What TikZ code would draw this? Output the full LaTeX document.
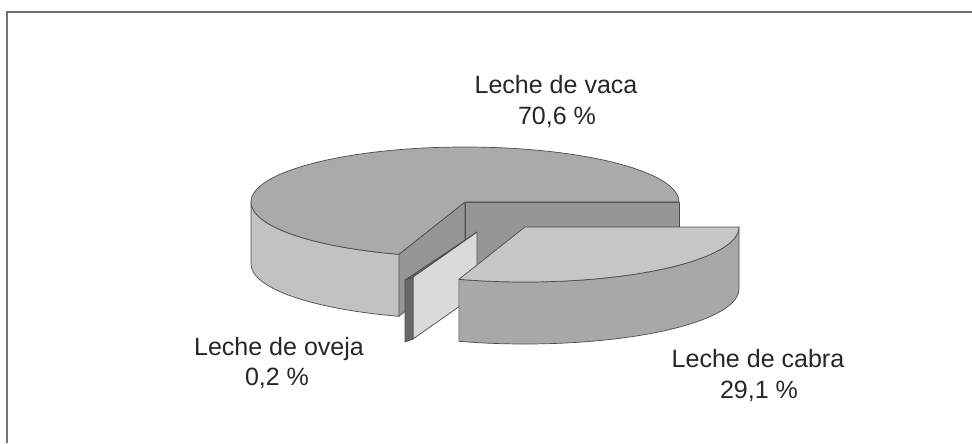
\documentclass[tikz,border=0pt]{standalone}
\usepackage{fontspec}
\setmainfont{Liberation Sans}
\definecolor{vacatop}{RGB}{170,170,170}
\definecolor{vacaside}{RGB}{194,194,194}
\definecolor{vacacut}{RGB}{150,150,150}
\definecolor{cabratop}{RGB}{198,198,198}
\definecolor{cabraside}{RGB}{168,168,168}
\definecolor{ovejaface}{RGB}{218,218,218}
\definecolor{ovejaside}{RGB}{105,105,105}
\begin{document}
\begin{tikzpicture}[x=0.025cm,y=0.025cm]
\tikzstyle{every node}+=[inner sep=0pt]
\tikzstyle{pieline}=[draw=black!70, line width=0.5pt, line join=round]
\tikzstyle{lbl}=[font=\fontsize{17.8}{22}\selectfont, text=black!85, anchor=base]
\useasboundingbox (0,0) rectangle (972,443);
\draw [black!55, line width=1pt] (7,0) -- (7,431) -- (972,431);
\coordinate (vc) at (465,241);
\coordinate (cc) at (525,216);
\coordinate (oc) at (477,211);
\coordinate (or1) at (413,166);
\coordinate (or2) at (405,163);
\draw [pieline, fill=vacacut] (vc) -- ++(214,0) -- ++(0,-62) -- ++(-214,0) -- cycle;
\draw [pieline, fill=vacacut] (vc) -- ++(252:214 and 55) -- ++(0,-62) -- (465,179) -- cycle;
\draw [pieline, fill=vacaside] (vc) ++(180:214 and 55) arc [start angle=180, end angle=252, x radius=214, y radius=55] -- ++(0,-62) arc [start angle=252, end angle=180, x radius=214, y radius=55] -- cycle;
\draw [pieline, fill=vacatop] (vc) -- ++(0:214 and 55) arc [start angle=0, end angle=252, x radius=214, y radius=55] -- cycle;
\draw [pieline, fill=ovejaface] (oc) -- (or1) -- (413,104) -- (477,149) -- cycle;
\draw [pieline, fill=ovejaside] (or2) -- (or1) -- (413,104) -- (405,101) -- cycle;
\draw [pieline, fill=ovejaside] (oc) -- (or1) -- (or2) -- cycle;
\draw [pieline, fill=cabraside] (cc) ++(252:214 and 55) arc [start angle=252, end angle=360, x radius=214, y radius=55] -- ++(0,-62) arc [start angle=360, end angle=252, x radius=214, y radius=55] -- cycle;
\draw [pieline, fill=cabratop] (cc) -- ++(252:214 and 55) arc [start angle=252, end angle=360, x radius=214, y radius=55] -- cycle;
\node [lbl] (vacatxt) at (556,350) {Leche de vaca};
\node [lbl] (vacapct) at (557,319) {70,6 \%};
\node [lbl] (ovejatxt) at (279,88) {Leche de oveja};
\node [lbl] (ovejapct) at (277,58) {0,2 \%};
\node [lbl] (cabratxt) at (758,76) {Leche de cabra};
\node [lbl] (cabrapct) at (759,45) {29,1 \%};
\end{tikzpicture}
\end{document}
